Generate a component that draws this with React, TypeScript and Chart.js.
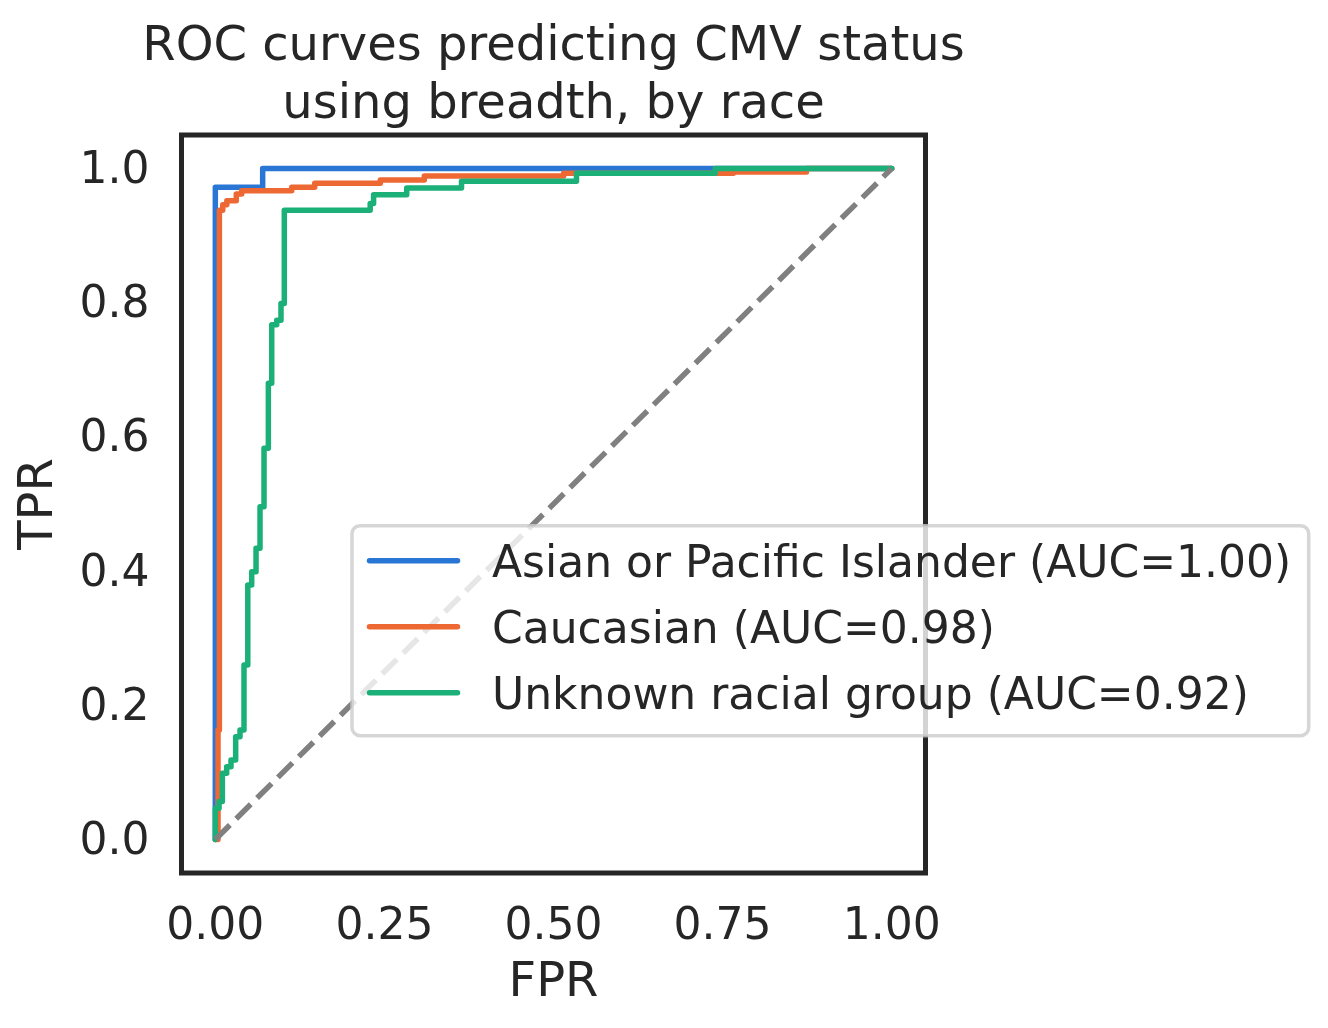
import React, { useEffect, useRef } from "react";
import { Chart, registerables } from "chart.js";

Chart.register(...registerables);

const titleLines = ["ROC curves predicting CMV status", "using breadth, by race"];
const xAxisLabel = "FPR";
const yAxisLabel = "TPR";
const xTickValues = [0, 0.25, 0.5, 0.75, 1.0];
const yTickValues = [0, 0.2, 0.4, 0.6, 0.8, 1.0];

const seriesLabels = [
  "Asian or Pacific Islander (AUC=1.00)",
  "Caucasian (AUC=0.98)",
  "Unknown racial group (AUC=0.92)",
];
const seriesColors = ["#2a76d4", "#ee6834", "#1cb079"];

const asianFpr = [0, 0, 0.07, 0.07, 1];
const asianTpr = [0, 0.972, 0.972, 1, 1];

const caucasianFpr = [
  0, 0.004, 0.004, 0.006, 0.006, 0.011, 0.011, 0.017, 0.017, 0.031, 0.031, 0.039, 0.039,
  0.113, 0.113, 0.147, 0.147, 0.244, 0.244, 0.309, 0.309, 0.515, 0.515, 0.766, 0.766,
  0.874, 0.874, 1,
];
const caucasianTpr = [
  0, 0, 0.163, 0.163, 0.938, 0.938, 0.946, 0.946, 0.952, 0.952, 0.962, 0.962, 0.967,
  0.967, 0.972, 0.972, 0.978, 0.978, 0.983, 0.983, 0.989, 0.989, 0.993, 0.993, 0.995,
  0.995, 1, 1,
];

const unknownFpr = [
  0, 0, 0.0055, 0.0055, 0.0104, 0.0104, 0.0168, 0.0168, 0.0232, 0.0232, 0.0301, 0.0301,
  0.0365, 0.0365, 0.0424, 0.0424, 0.048, 0.048, 0.0538, 0.0538, 0.0602, 0.0602, 0.0661,
  0.0661, 0.072, 0.072, 0.0784, 0.0784, 0.0834, 0.0834, 0.0908, 0.0908, 0.0971, 0.0971,
  0.102, 0.102, 0.229, 0.229, 0.234, 0.234, 0.283, 0.283, 0.364, 0.364, 0.534, 0.534,
  0.739, 0.739, 1,
];
const unknownTpr = [
  0, 0.0465, 0.0465, 0.0564, 0.0564, 0.0986, 0.0986, 0.1085, 0.1085, 0.1185, 0.1185,
  0.1532, 0.1532, 0.1632, 0.1632, 0.2601, 0.2601, 0.3793, 0.3793, 0.3992, 0.3992, 0.434,
  0.434, 0.496, 0.496, 0.583, 0.583, 0.68, 0.68, 0.767, 0.767, 0.774, 0.774, 0.799, 0.799,
  0.938, 0.938, 0.948, 0.948, 0.961, 0.961, 0.971, 0.971, 0.981, 0.981, 0.993, 0.993, 1,
  1,
];

const chanceFpr = [0, 1];
const chanceTpr = [0, 1];

const FONT = "'DejaVu Sans', sans-serif";
const TEXT_COLOR = "#262626";
const LINE_W = 5.5;

function pts(xs: number[], ys: number[]) {
  return xs.map((x, i) => ({ x, y: ys[i] }));
}

export default function App() {
  const ref = useRef<HTMLCanvasElement | null>(null);

  useEffect(() => {
    const canvas = ref.current;
    if (!canvas) return;

    const framePlugin = {
      id: "frame",
      afterDatasetsDraw(chart: any) {
        const { ctx, chartArea } = chart;
        const { left, top, right, bottom } = chartArea;
        ctx.save();
        ctx.strokeStyle = TEXT_COLOR;
        ctx.lineWidth = 5;
        ctx.strokeRect(left, top, right - left, bottom - top);
        ctx.restore();
      },
    };

    const titlePlugin = {
      id: "customTitle",
      afterDraw(chart: any) {
        const { ctx, chartArea } = chart;
        const cx = (chartArea.left + chartArea.right) / 2;
        ctx.save();
        ctx.fillStyle = TEXT_COLOR;
        ctx.font = `48px ${FONT}`;
        ctx.textAlign = "center";
        ctx.textBaseline = "alphabetic";
        ctx.fillText(titleLines[0], cx, 60);
        ctx.fillText(titleLines[1], cx, 118);
        ctx.restore();
      },
    };

    const legendPlugin = {
      id: "customLegend",
      afterDraw(chart: any) {
        const { ctx } = chart;
        const x0 = 352;
        const y0 = 525.7;
        const x1 = 1308.7;
        const y1 = 735.7;
        const r = 8;
        ctx.save();
        ctx.beginPath();
        ctx.moveTo(x0 + r, y0);
        ctx.lineTo(x1 - r, y0);
        ctx.arcTo(x1, y0, x1, y0 + r, r);
        ctx.lineTo(x1, y1 - r);
        ctx.arcTo(x1, y1, x1 - r, y1, r);
        ctx.lineTo(x0 + r, y1);
        ctx.arcTo(x0, y1, x0, y1 - r, r);
        ctx.lineTo(x0, y0 + r);
        ctx.arcTo(x0, y0, x0 + r, y0, r);
        ctx.closePath();
        ctx.fillStyle = "rgba(255,255,255,0.8)";
        ctx.fill();
        ctx.strokeStyle = "rgba(204,204,204,0.8)";
        ctx.lineWidth = 3.5;
        ctx.stroke();

        const rows = [560.7, 626.7, 692.7];
        ctx.font = `44px ${FONT}`;
        ctx.textAlign = "left";
        ctx.textBaseline = "alphabetic";
        seriesLabels.forEach((label, i) => {
          const y = rows[i];
          ctx.beginPath();
          ctx.moveTo(369.5, y);
          ctx.lineTo(457.5, y);
          ctx.strokeStyle = seriesColors[i];
          ctx.lineWidth = LINE_W;
          ctx.lineCap = "round";
          ctx.stroke();
          ctx.fillStyle = TEXT_COLOR;
          ctx.fillText(label, 492, y + 16);
        });
        ctx.restore();
      },
    };

    const solid = (i: number, data: { x: number; y: number }[], order: number) => ({
      label: seriesLabels[i],
      data,
      borderColor: seriesColors[i],
      backgroundColor: seriesColors[i],
      borderWidth: LINE_W,
      pointRadius: 0,
      pointHoverRadius: 0,
      tension: 0,
      fill: false,
      borderJoinStyle: "round" as const,
      borderCapStyle: "round" as const,
      order,
    });

    const chart = new Chart(canvas, {
      type: "line",
      data: {
        datasets: [
          solid(0, pts(asianFpr, asianTpr), 4),
          solid(1, pts(caucasianFpr, caucasianTpr), 3),
          solid(2, pts(unknownFpr, unknownTpr), 2),
          {
            label: "chance",
            data: pts(chanceFpr, chanceTpr),
            borderColor: "#808080",
            borderWidth: LINE_W,
            borderDash: [20.5, 8.9],
            borderCapStyle: "butt" as const,
            pointRadius: 0,
            pointHoverRadius: 0,
            tension: 0,
            fill: false,
            order: 1,
          },
        ],
      },
      options: {
        responsive: false,
        animation: false,
        devicePixelRatio: 1,
        layout: { padding: { left: 0, top: 135, right: 402.5, bottom: 0 } },
        plugins: {
          legend: { display: false },
          title: { display: false },
          tooltip: { enabled: false },
        },
        events: [],
        scales: {
          x: {
            type: "linear",
            min: -0.05,
            max: 1.05,
            grid: { display: false, drawTicks: false },
            border: { display: false },
            afterBuildTicks: (scale: any) => {
              scale.ticks = xTickValues.map((v) => ({ value: v }));
            },
            afterFit: (scale: any) => {
              scale.height = 155;
            },
            ticks: {
              autoSkip: false,
              maxRotation: 0,
              minRotation: 0,
              padding: 28,
              color: TEXT_COLOR,
              font: { family: FONT, size: 44, lineHeight: 1.2 },
              callback: (v: any) => Number(v).toFixed(2),
            },
            title: {
              display: true,
              text: xAxisLabel,
              color: TEXT_COLOR,
              font: { family: FONT, size: 48, lineHeight: 1.2 },
              padding: { top: 0, bottom: 16 },
            },
          },
          y: {
            type: "linear",
            min: -0.05,
            max: 1.05,
            grid: { display: false, drawTicks: false },
            border: { display: false },
            afterBuildTicks: (scale: any) => {
              scale.ticks = yTickValues.map((v) => ({ value: v }));
            },
            afterFit: (scale: any) => {
              scale.width = 181.5;
            },
            ticks: {
              autoSkip: false,
              padding: 32,
              labelOffset: 3,
              color: TEXT_COLOR,
              font: { family: FONT, size: 44, lineHeight: 1.2 },
              callback: (v: any) => Number(v).toFixed(1),
            },
            title: {
              display: true,
              text: yAxisLabel,
              color: TEXT_COLOR,
              font: { family: FONT, size: 48, lineHeight: 1.2 },
              padding: { top: 11, bottom: 0 },
            },
          },
        },
      },
      plugins: [framePlugin, titlePlugin, legendPlugin],
    } as any);

    return () => {
      chart.destroy();
    };
  }, []);

  return (
    <div style={{ position: "fixed", left: 0, top: 0, width: 1328, height: 1028, background: "#ffffff" }}>
      <canvas ref={ref} width={1328} height={1028} style={{ width: 1328, height: 1028, display: "block" }} />
    </div>
  );
}
